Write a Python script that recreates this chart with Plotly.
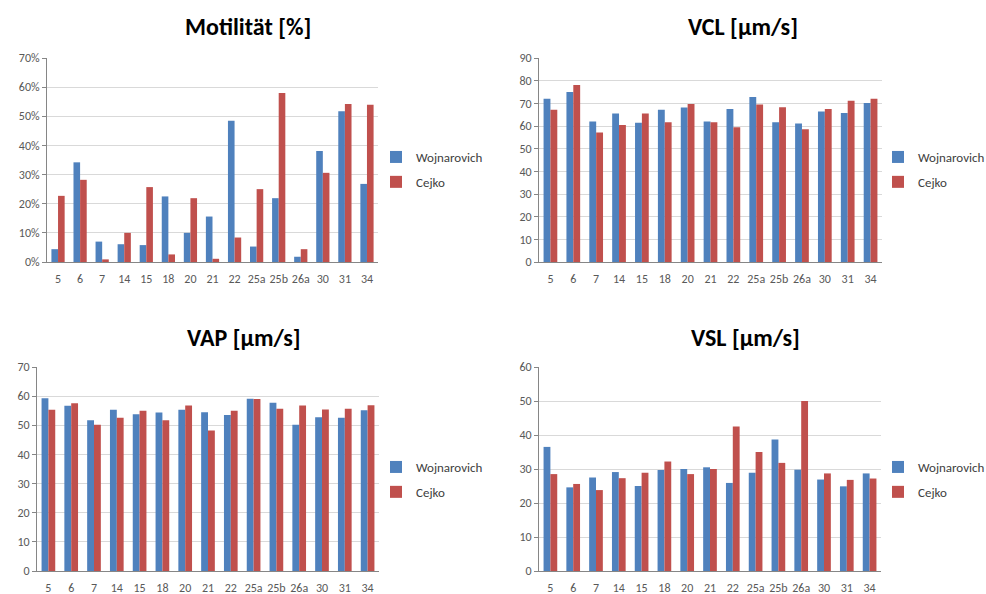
import plotly.graph_objects as go

categories = ["5", "6", "7", "14", "15", "18", "20", "21", "22", "25a", "25b", "26a", "30", "31", "34"]

mot_wojnarovich = [4.4, 34.2, 7.0, 6.1, 5.8, 22.5, 10.0, 15.6, 48.5, 5.3, 21.9, 1.8, 38.1, 51.7, 26.8]
mot_cejko = [22.7, 28.2, 0.9, 10.0, 25.7, 2.6, 21.9, 1.1, 8.4, 25.0, 58.0, 4.4, 30.6, 54.2, 54.0]

vcl_wojnarovich = [72.0, 75.0, 62.0, 65.5, 61.4, 67.2, 68.2, 62.0, 67.5, 72.8, 61.6, 61.1, 66.4, 65.7, 70.1]
vcl_cejko = [67.2, 78.1, 57.1, 60.4, 65.5, 61.6, 69.7, 61.7, 59.4, 69.5, 68.3, 58.6, 67.5, 71.1, 72.0]

vap_wojnarovich = [59.3, 56.7, 51.7, 55.3, 53.8, 54.4, 55.3, 54.5, 53.5, 59.1, 57.7, 50.2, 52.8, 52.6, 55.2]
vap_cejko = [55.3, 57.6, 50.2, 52.6, 55.0, 51.7, 56.8, 48.2, 55.0, 59.0, 55.7, 56.8, 55.4, 55.7, 56.9]

vsl_wojnarovich = [36.5, 24.6, 27.5, 29.1, 25.0, 29.7, 30.0, 30.5, 25.9, 28.9, 38.7, 29.8, 26.9, 24.9, 28.7]
vsl_cejko = [28.5, 25.6, 23.8, 27.3, 28.9, 32.2, 28.5, 30.0, 42.5, 35.0, 31.8, 50.0, 28.7, 26.8, 27.2]

titles = ["Motilität [%]", "VCL [µm/s]", "VAP [µm/s]", "VSL [µm/s]"]
y_max = [70, 90, 70, 60]
y_suffix = ["%", "", "", ""]
series_names = ["Wojnarovich", "Cejko"]

W, H = 986, 594
BLUE = "#4F81BD"
RED = "#C0504D"
FONT = "Calibri, Carlito, Lato, sans-serif"

panels = [
    (mot_wojnarovich, mot_cejko),
    (vcl_wojnarovich, vcl_cejko),
    (vap_wojnarovich, vap_cejko),
    (vsl_wojnarovich, vsl_cejko),
]

# pixel boxes of plot areas: (x0, x1, ytop, ybottom)
boxes = [
    (47, 378, 58, 262),
    (539, 882, 58, 262),
    (37, 379, 367, 571),
    (539, 881, 367, 571),
]
title_pos = [(248, 27), (743, 27), (244, 337), (745, 337)]
legend_pos = [(376, 142), (878, 142), (376, 452), (878, 452)]

fig = go.Figure()
layout = dict(
    width=W, height=H,
    margin=dict(l=0, r=0, t=0, b=0, autoexpand=False),
    paper_bgcolor="white", plot_bgcolor="white",
    barmode="group", bargap=0.4, bargroupgap=0.0,
    font=dict(family=FONT, size=12, color="#595959"),
    annotations=[],
)

for i, (w_vals, c_vals) in enumerate(panels):
    n = i + 1
    xa = "x" if n == 1 else f"x{n}"
    ya = "y" if n == 1 else f"y{n}"
    lg = "legend" if n == 1 else f"legend{n}"
    for k, (name, vals, col) in enumerate([(series_names[0], w_vals, BLUE), (series_names[1], c_vals, RED)]):
        fig.add_trace(go.Bar(
            x=categories, y=vals, name=name, xaxis=xa, yaxis=ya, legend=lg,
            legendgroup=f"p{n}s{k}",
            marker=dict(color=col, line=dict(width=0)),
            hovertemplate="%{x}: %{y}" + y_suffix[i] + "<extra>" + name + "</extra>",
        ))
    x0, x1, yt, yb = boxes[i]
    xkey = "xaxis" if n == 1 else f"xaxis{n}"
    ykey = "yaxis" if n == 1 else f"yaxis{n}"
    layout[xkey] = dict(
        domain=[x0 / W, x1 / W], anchor=ya,
        type="category", showgrid=False,
        showline=True, linecolor="#868686", linewidth=1,
        ticks="", tickfont=dict(size=12, color="#595959"),
        ticklabelstandoff=6,
    )
    layout[ykey] = dict(
        domain=[1 - yb / H, 1 - yt / H], anchor=xa,
        range=[0, y_max[i]], dtick=10, ticksuffix=y_suffix[i],
        showgrid=True, gridcolor="#D9D9D9", gridwidth=1,
        showline=True, linecolor="#868686", linewidth=1,
        ticks="outside", ticklen=4, tickcolor="#868686",
        tickfont=dict(size=12, color="#595959"),
        zeroline=False,
    )
    lx, ly = legend_pos[i]
    layout[lg] = dict(
        x=lx / W, y=1 - ly / H, xanchor="left", yanchor="top",
        font=dict(family=FONT, size=13, color="#404040"),
        bgcolor="rgba(0,0,0,0)", itemwidth=30,
        traceorder="grouped", tracegroupgap=5,
    )
    tx, ty = title_pos[i]
    layout["annotations"].append(dict(
        text="<b>" + titles[i] + "</b>", x=tx / W, y=1 - ty / H,
        xref="paper", yref="paper", xanchor="center", yanchor="middle",
        showarrow=False, font=dict(family=FONT, size=24, color="#000000"),
    ))

fig.update_layout(**layout)
fig.write_html(
    "out.html",
    config={"displayModeBar": False},
    post_script="document.body.style.margin='0';document.body.style.overflow='hidden';",
)
